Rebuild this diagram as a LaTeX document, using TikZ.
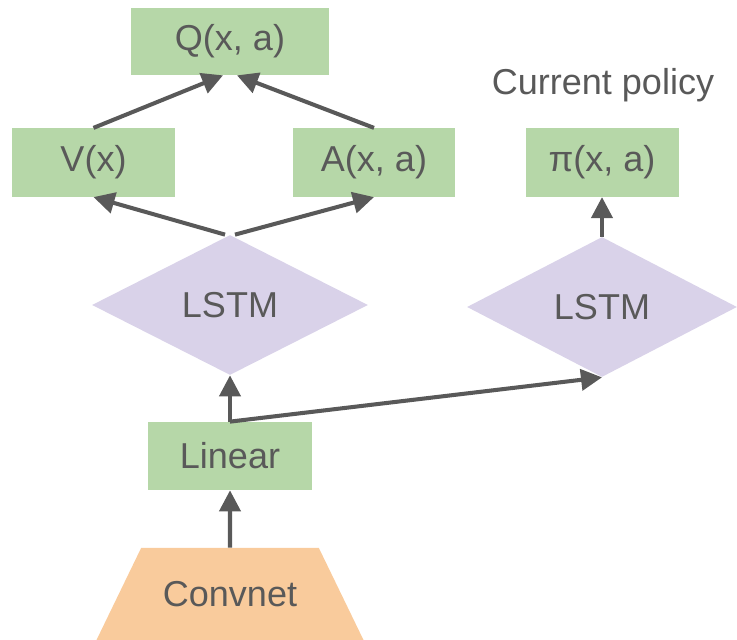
\documentclass[tikz,border=0pt]{standalone}
\usepackage{fontspec}
\setmainfont{Liberation Sans}
\usepackage{xcolor}
\usetikzlibrary{positioning, arrows.meta, shapes.geometric}

\definecolor{boxgreen}{HTML}{B6D7A8}
\definecolor{lstmpurple}{HTML}{D9D2E9}
\definecolor{convorange}{HTML}{F9CB9C}
\definecolor{textgray}{HTML}{595959}

\begin{document}
\begin{tikzpicture}[
    font=\fontsize{20.5}{24}\selectfont,
    text=textgray,
    layer/.style={fill=boxgreen, inner sep=0pt, minimum height=1.37cm},
    lstm/.style={diamond, aspect=2, fill=lstmpurple, inner sep=0pt,
        minimum width=5.52cm, minimum height=2.8cm},
    flow/.style={draw=textgray, line width=2.3pt, -{Triangle[length=0.42cm,width=0.42cm]}}
]

    % Page frame
    \useasboundingbox (0,0) rectangle (14.74,12.8);

    % Output heads
    \node[layer, minimum width=3.96cm, minimum height=1.34cm] (q) at (4.6, 11.97) {Q(x, a)};
    \node[layer, minimum width=3.26cm] (v) at (1.87, 9.55) {V(x)};
    \node[layer, minimum width=3.24cm] (a) at (7.48, 9.55) {A(x, a)};
    \node[layer, minimum width=3.06cm] (pi) at (12.04, 9.55) {π(x, a)};
    \node (policy) at (12.06, 11.1) {Current policy};

    % Recurrent cores
    \node[lstm] (lstmL) at (4.6, 6.7) {LSTM};
    \node[lstm, minimum width=5.4cm] (lstmR) at (12.04, 6.66) {LSTM};

    % Encoder
    \node[layer, minimum width=3.28cm, minimum height=1.36cm] (linear) at (4.6, 3.68) {Linear};
    \node[trapezium, trapezium stretches body=true, trapezium angle=61, fill=convorange,
        inner xsep=0pt, inner ysep=0.55cm, minimum width=5.34cm, minimum height=1.84cm] (conv) at (4.6, 0.92) {Convnet};

    % Connections
    \draw[flow] (conv.north) -- (linear.south);
    \draw[flow] (linear.north) -- (lstmL.south);
    \draw[flow] (linear.north) -- (lstmR.south);
    \draw[flow] ([xshift=-0.1cm]lstmL.north) -- (v.south);
    \draw[flow] ([xshift=0.1cm]lstmL.north) -- (a.south);
    \draw[flow] (v.north) -- ([xshift=-0.14cm]q.south);
    \draw[flow] (a.north) -- ([xshift=0.14cm]q.south);
    \draw[flow] (lstmR.north) -- (pi.south);

\end{tikzpicture}
\end{document}
